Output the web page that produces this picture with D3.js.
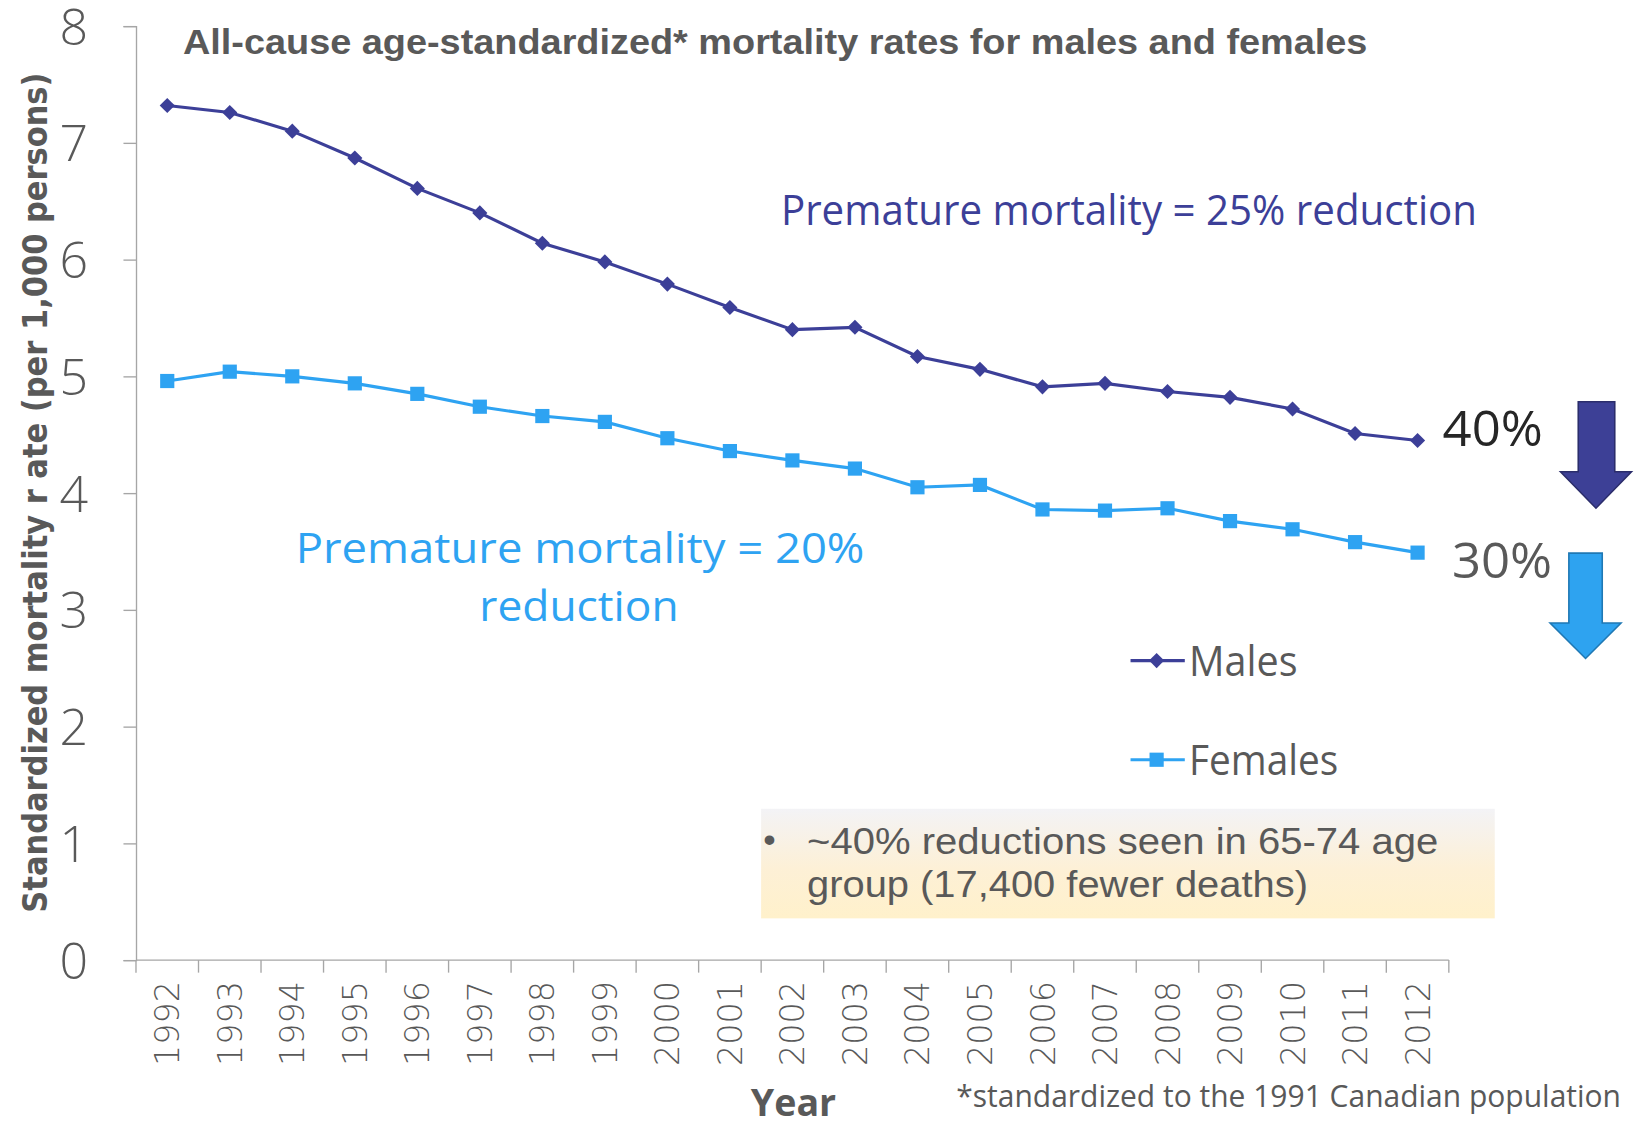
<!DOCTYPE html>
<html>
<head>
<meta charset="utf-8">
<script src="https://cdn.jsdelivr.net/npm/d3@7"></script>
<style>
  html, body { margin: 0; padding: 0; background: #fff; }
  svg { display: block; }
</style>
</head>
<body>
<div id="chart"></div>
<script>
// data
var years = ["1992", "1993", "1994", "1995", "1996", "1997", "1998", "1999", "2000", "2001",
  "2002", "2003", "2004", "2005", "2006", "2007", "2008", "2009", "2010", "2011", "2012"];
var males = [7.32, 7.26, 7.10, 6.87, 6.61, 6.40, 6.14, 5.98, 5.79, 5.59,
  5.40, 5.42, 5.17, 5.06, 4.91, 4.94, 4.87, 4.82, 4.72, 4.51, 4.45];
var females = [4.96, 5.04, 5.00, 4.94, 4.85, 4.74, 4.66, 4.61, 4.47, 4.36,
  4.28, 4.21, 4.05, 4.07, 3.86, 3.85, 3.87, 3.76, 3.69, 3.58, 3.49];
var yTicks = [0, 1, 2, 3, 4, 5, 6, 7, 8];

var maleColor = "#3c3f98", femaleColor = "#2ea3f2", textGray = "#595959";
var segoe = "'Open Sans', 'Noto Sans', sans-serif";
var arial = "'Liberation Sans', Arial, sans-serif";

// drawing in the 1568x1078 space of the shrunk reference, scaled up by the viewBox
var W = 1568, H = 1078;
var margin = {top: 25, right: 180, bottom: 158, left: 130},
  width = W - margin.left - margin.right,
  height = H - margin.top - margin.bottom;

var svg = d3.select("#chart").append("svg")
  .attr("width", 1637).attr("height", 1125)
  .attr("viewBox", "0 0 " + W + " " + H);

var defs = svg.append("defs");
var grad = defs.append("linearGradient").attr("id", "boxGrad")
  .attr("x1", 0).attr("y1", 0).attr("x2", 0).attr("y2", 1);
grad.append("stop").attr("offset", "0%").attr("stop-color", "#f3f3f6");
grad.append("stop").attr("offset", "55%").attr("stop-color", "#fdf0d6");
grad.append("stop").attr("offset", "100%").attr("stop-color", "#fff1cb");

var g = svg.append("g")
  .attr("transform", "translate(" + margin.left + "," + margin.top + ")");

var x = d3.scaleBand().domain(years).range([0, width]).padding(0);
var y = d3.scaleLinear().domain([0, 8]).range([height, 0]);
var cx = function (d, i) { return x(years[i]) + x.bandwidth() / 2; };

// y axis
var yAxis = d3.axisLeft(y).tickValues(yTicks).tickSize(12).tickPadding(0).tickFormat(d3.format("d"));
var yg = g.append("g").attr("class", "y axis").call(yAxis);
yg.select(".domain").attr("stroke", "#a6a6a6").attr("stroke-width", 1.3);
yg.selectAll(".tick line").attr("stroke", "#a6a6a6").attr("stroke-width", 1.3);
yg.selectAll(".tick text")
  .attr("x", -46)
  .attr("dy", "0.36em")
  .attr("fill", textGray)
  .style("font-family", segoe)
  .style("font-weight", 300)
  .style("font-size", "48px");

// x axis - excel style, ticks between the categories
var xg = g.append("g").attr("class", "x axis").attr("transform", "translate(0," + height + ")");
xg.append("line").attr("x1", 0).attr("x2", width).attr("stroke", "#a6a6a6").attr("stroke-width", 1.3);
xg.selectAll(".xtick").data(years.concat(["end"])).enter().append("line")
  .attr("class", "xtick")
  .attr("x1", function (d, i) { return i * x.bandwidth(); })
  .attr("x2", function (d, i) { return i * x.bandwidth(); })
  .attr("y1", 0).attr("y2", 12)
  .attr("stroke", "#a6a6a6").attr("stroke-width", 1.3);
xg.selectAll(".xlabel").data(years).enter().append("text")
  .attr("class", "xlabel")
  .attr("transform", function (d) {
    return "translate(" + (x(d) + x.bandwidth() / 2) + ",20) rotate(-90)";
  })
  .attr("text-anchor", "end")
  .attr("dy", "0.36em")
  .attr("fill", textGray)
  .style("font-family", "'DejaVu Sans', Verdana, sans-serif")
  .style("font-weight", 300)
  .style("font-size", "32px")
  .text(function (d) { return d; });

// lines
var line = d3.line().x(cx).y(function (d) { return y(d); });

g.append("path").datum(males)
  .attr("fill", "none").attr("stroke", maleColor).attr("stroke-width", 3)
  .attr("d", line);
g.append("path").datum(females)
  .attr("fill", "none").attr("stroke", femaleColor).attr("stroke-width", 3)
  .attr("d", line);

var diamond = d3.symbol(d3.symbolSquare, 105);
var square = d3.symbol(d3.symbolSquare, 185);

g.selectAll(".mdot").data(males).enter().append("path")
  .attr("class", "mdot")
  .attr("d", diamond)
  .attr("fill", maleColor)
  .attr("transform", function (d, i) { return "translate(" + cx(d, i) + "," + y(d) + ") rotate(45)"; });
g.selectAll(".fdot").data(females).enter().append("path")
  .attr("class", "fdot")
  .attr("d", square)
  .attr("fill", femaleColor)
  .attr("transform", function (d, i) { return "translate(" + cx(d, i) + "," + y(d) + ")"; });

// title + axis titles
svg.append("text")
  .attr("x", 175).attr("y", 52)
  .attr("textLength", 1135).attr("lengthAdjust", "spacingAndGlyphs")
  .attr("fill", textGray)
  .style("font-family", arial).style("font-weight", "bold").style("font-size", "34px")
  .text("All-cause age-standardized* mortality rates for males and females");

svg.append("text")
  .attr("transform", "translate(45,472) rotate(-90)")
  .attr("text-anchor", "middle")
  .attr("textLength", 805).attr("lengthAdjust", "spacingAndGlyphs")
  .attr("fill", textGray)
  .style("font-family", "'DejaVu Sans', Verdana, sans-serif").style("font-weight", "bold").style("font-size", "32px")
  .text("Standardized mortality r ate (per 1,000 persons)");

svg.append("text")
  .attr("x", 760).attr("y", 1069)
  .attr("text-anchor", "middle")
  .attr("fill", textGray)
  .style("font-family", segoe).style("font-weight", "bold").style("font-size", "36px")
  .text("Year");

svg.append("text")
  .attr("x", 916).attr("y", 1061)
  .attr("textLength", 637).attr("lengthAdjust", "spacingAndGlyphs")
  .attr("fill", textGray)
  .style("font-family", segoe).style("font-size", "29px")
  .text("*standardized to the 1991 Canadian population");

// annotations
svg.append("text")
  .attr("x", 748).attr("y", 216)
  .attr("textLength", 667).attr("lengthAdjust", "spacingAndGlyphs")
  .attr("fill", maleColor)
  .style("font-family", segoe).style("font-size", "41px")
  .text("Premature mortality = 25% reduction");

svg.append("text")
  .attr("x", 283).attr("y", 539)
  .attr("textLength", 545).attr("lengthAdjust", "spacingAndGlyphs")
  .attr("fill", femaleColor)
  .style("font-family", segoe).style("font-size", "41px")
  .text("Premature mortality = 20%");
svg.append("text")
  .attr("x", 459).attr("y", 595)
  .attr("textLength", 191).attr("lengthAdjust", "spacingAndGlyphs")
  .attr("fill", femaleColor)
  .style("font-family", segoe).style("font-size", "41px")
  .text("reduction");

svg.append("text")
  .attr("x", 1382).attr("y", 427)
  .attr("textLength", 96).attr("lengthAdjust", "spacingAndGlyphs")
  .attr("fill", "#262626")
  .style("font-family", segoe).style("font-size", "48px")
  .text("40%");
svg.append("text")
  .attr("x", 1391).attr("y", 554)
  .attr("textLength", 96).attr("lengthAdjust", "spacingAndGlyphs")
  .attr("fill", textGray)
  .style("font-family", segoe).style("font-size", "48px")
  .text("30%");

// down arrows
function arrow(sx0, sx1, top, headY, hx0, hx1, tipY, fill, stroke) {
  var mid = (hx0 + hx1) / 2;
  svg.append("path")
    .attr("d", "M" + sx0 + "," + top + "H" + sx1 + "V" + headY + "H" + hx1 +
      "L" + mid + "," + tipY + "L" + hx0 + "," + headY + "H" + sx0 + "Z")
    .attr("fill", fill).attr("stroke", stroke).attr("stroke-width", 1.5);
}
arrow(1512, 1547, 385, 452, 1495, 1563, 487, "#3d4096", "#2b2d6b");
arrow(1503, 1535, 530, 597, 1485, 1553, 631, "#2ea3f0", "#1f78b4");

// legend
var legend = svg.append("g");
var legendItems = [
  {name: "Males", color: maleColor, sym: diamond, rot: 45, y: 633, w: 104},
  {name: "Females", color: femaleColor, sym: square, rot: 0, y: 728, w: 143}
];
var li = legend.selectAll("g").data(legendItems).enter().append("g")
  .attr("transform", function (d) { return "translate(0," + d.y + ")"; });
li.append("line").attr("x1", 1083).attr("x2", 1135)
  .attr("stroke", function (d) { return d.color; }).attr("stroke-width", 3);
li.append("path")
  .attr("d", function (d) { return d.sym(); })
  .attr("fill", function (d) { return d.color; })
  .attr("transform", function (d) { return "translate(1108,0) rotate(" + d.rot + ")"; });
li.append("text")
  .attr("x", 1139).attr("y", 15)
  .attr("textLength", function (d) { return d.w; }).attr("lengthAdjust", "spacingAndGlyphs")
  .attr("fill", textGray)
  .style("font-family", segoe).style("font-size", "41px")
  .text(function (d) { return d.name; });

// note box
svg.append("rect")
  .attr("x", 729).attr("y", 775).attr("width", 703).attr("height", 105)
  .attr("fill", "url(#boxGrad)");
svg.append("text")
  .attr("x", 731).attr("y", 816)
  .attr("fill", textGray)
  .style("font-family", arial).style("font-size", "34px")
  .text("\u2022");
svg.append("text")
  .attr("x", 773).attr("y", 818)
  .attr("textLength", 605).attr("lengthAdjust", "spacingAndGlyphs")
  .attr("fill", textGray)
  .style("font-family", arial).style("font-size", "35px")
  .text("~40% reductions seen in 65-74 age");
svg.append("text")
  .attr("x", 773).attr("y", 860)
  .attr("textLength", 480).attr("lengthAdjust", "spacingAndGlyphs")
  .attr("fill", textGray)
  .style("font-family", arial).style("font-size", "35px")
  .text("group (17,400 fewer deaths)");
</script>
</body>
</html>
